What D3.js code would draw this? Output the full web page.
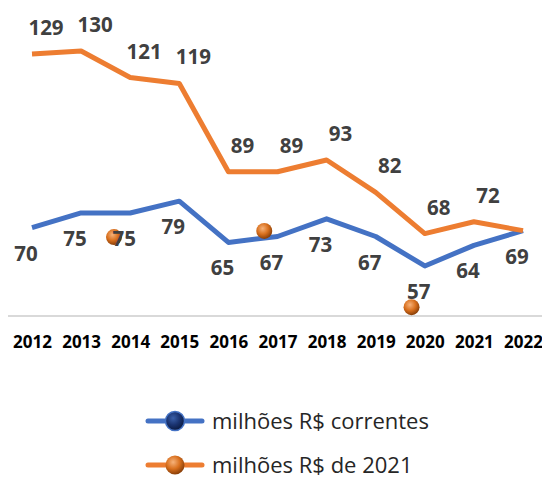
<!DOCTYPE html>
<html>
<head>
<meta charset="utf-8">
<script src="https://cdn.jsdelivr.net/npm/d3@7"></script>
<style>
  html, body { margin: 0; padding: 0; background: #fff; }
  svg { display: block; }
</style>
</head>
<body>
<svg id="chart" width="542" height="481"></svg>
<script>
const years = [2012, 2013, 2014, 2015, 2016, 2017, 2018, 2019, 2020, 2021, 2022];
const correntes = [70, 75, 75, 79, 65, 67, 73, 67, 57, 64, 69];
const reais2021 = [129, 130, 121, 119, 89, 89, 93, 82, 68, 72, 69];
// the loose 3d markers that float in the picture (year, value)
const looseYears = [2013.67, 2016.73, 2019.73];
const looseValues = [66.8, 68.9, 43];
const seriesNames = ["milhões R$ correntes", "milhões R$ de 2021"];

const svg = d3.select("#chart");
const width = 542;

const x = d3.scaleLinear().domain([2012, 2022]).range([32, 523]);
const y = d3.scaleLinear().domain([40, 140]).range([316, 21.6]);

const defs = svg.append("defs");
function sphere(id, light, mid, dark) {
  const g = defs.append("radialGradient").attr("id", id)
    .attr("cx", "40%").attr("cy", "35%").attr("r", "65%");
  g.append("stop").attr("offset", "0%").attr("stop-color", light);
  g.append("stop").attr("offset", "55%").attr("stop-color", mid);
  g.append("stop").attr("offset", "100%").attr("stop-color", dark);
}
sphere("orangeBall", "#f6b27a", "#d9701e", "#8a3f08");
sphere("blueBall", "#3a5fa8", "#1a3370", "#0b1a40");

// axis line
svg.append("line")
  .attr("x1", 8).attr("x2", width)
  .attr("y1", y(40)).attr("y2", y(40))
  .attr("stroke", "#d9d9d9").attr("stroke-width", 2);

const xAxis = svg.append("g")
  .attr("transform", `translate(0,${y(40)})`)
  .call(d3.axisBottom(x).tickValues(years).tickFormat(d3.format("d")).tickSize(0).tickPadding(20));
xAxis.select(".domain").remove();
xAxis.selectAll("text")
  .attr("font-family", "Open Sans, sans-serif")
  .attr("font-weight", 700)
  .attr("font-size", 17)
  .attr("fill", "#000");

const line = d3.line().x((d, i) => x(years[i])).y(d => y(d));

svg.append("path").datum(correntes)
  .attr("d", line).attr("fill", "none")
  .attr("stroke", "#4472c4").attr("stroke-width", 5).attr("stroke-linejoin", "round");
svg.append("path").datum(reais2021)
  .attr("d", line).attr("fill", "none")
  .attr("stroke", "#ed7d31").attr("stroke-width", 5).attr("stroke-linejoin", "round");

svg.append("g").selectAll("circle")
  .data(looseYears)
  .join("circle")
  .attr("cx", d => x(d))
  .attr("cy", (d, i) => y(looseValues[i]))
  .attr("r", 8)
  .attr("fill", "url(#orangeBall)");

const labelStyle = sel => sel
  .attr("font-family", "Open Sans, sans-serif")
  .attr("font-weight", 700)
  .attr("font-size", 20.5)
  .attr("fill", "#404040")
  .attr("text-anchor", "middle");

svg.append("g").selectAll("text")
  .data(reais2021.slice(0, -1))
  .join("text")
  .attr("x", (d, i) => x(years[i]) + 14)
  .attr("y", d => y(d) - 19)
  .text(d => d)
  .call(labelStyle);

svg.append("g").selectAll("text")
  .data(correntes)
  .join("text")
  .attr("x", (d, i) => x(years[i]) - 6)
  .attr("y", d => y(d) + 33)
  .text(d => d)
  .call(labelStyle);

// legend
const legend = svg.append("g").selectAll("g")
  .data(seriesNames)
  .join("g")
  .attr("transform", (d, i) => `translate(148,${421 + i * 44})`);
legend.append("line")
  .attr("x1", 0).attr("x2", 54)
  .attr("stroke", (d, i) => i ? "#ed7d31" : "#4472c4")
  .attr("stroke-width", 5).attr("stroke-linecap", "round");
legend.append("circle")
  .attr("cx", 27).attr("r", 9.5)
  .attr("fill", (d, i) => i ? "url(#orangeBall)" : "url(#blueBall)")
  .attr("stroke", (d, i) => i ? "none" : "#4472c4").attr("stroke-width", 1.5);
legend.append("text")
  .attr("x", 64).attr("dy", "0.35em")
  .attr("font-family", "Open Sans, sans-serif")
  .attr("font-size", 22)
  .attr("fill", "#262626")
  .text(d => d);
</script>
</body>
</html>
